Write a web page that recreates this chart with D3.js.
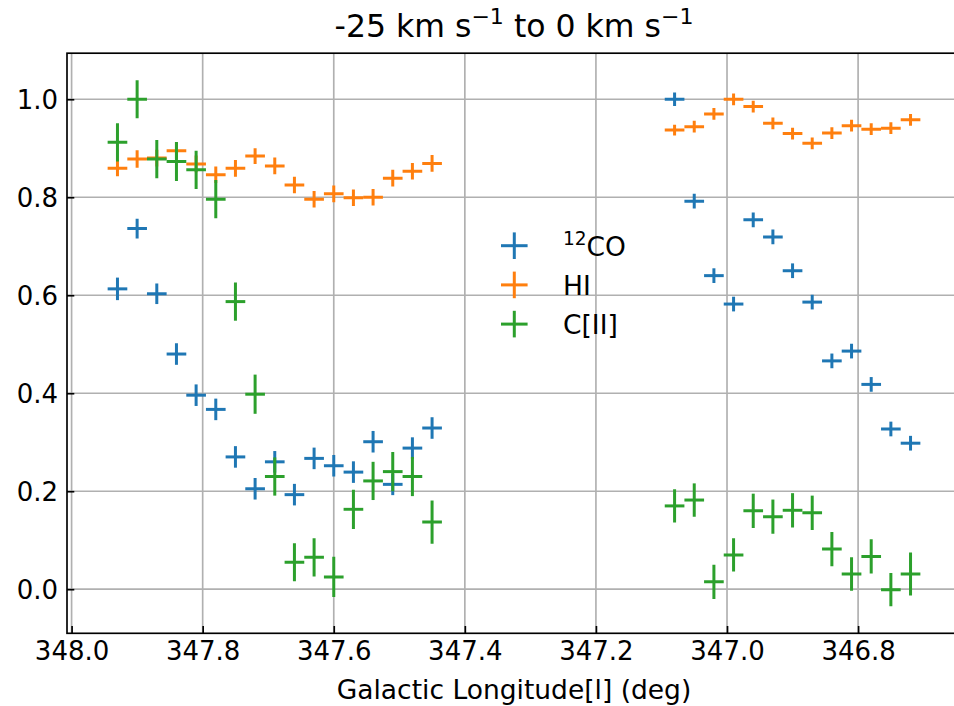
<!DOCTYPE html>
<html>
<head>
<meta charset="utf-8">
<script src="https://cdn.jsdelivr.net/npm/d3@7"></script>
<style>
  html, body { margin: 0; padding: 0; background: #fff; }
  svg { display: block; }
  text { font-family: "DejaVu Sans", sans-serif; fill: #000; }
</style>
</head>
<body>
<svg id="chart" width="954" height="706"></svg>
<script>
// ---------------- data ----------------
const longitude = [347.93, 347.90, 347.87, 347.84, 347.81, 347.78, 347.75, 347.72, 347.69,
  347.66, 347.63, 347.60, 347.57, 347.54, 347.51, 347.48, 347.45,
  347.08, 347.05, 347.02, 346.99, 346.96, 346.93, 346.90, 346.87, 346.84, 346.81, 346.78, 346.75, 346.72];
const lonErr = 0.015;

const co12 = [0.613, 0.736, 0.603, 0.480, 0.396, 0.367, 0.270, 0.205, 0.260,
  0.193, 0.267, 0.252, 0.239, 0.301, 0.214, 0.288, 0.329,
  1.000, 0.792, 0.640, 0.582, 0.754, 0.719, 0.650, 0.586, 0.466, 0.486, 0.418, 0.327, 0.298];
const co12Err = [0.023, 0.020, 0.021, 0.022, 0.022, 0.022, 0.022, 0.022, 0.022,
  0.022, 0.022, 0.022, 0.022, 0.022, 0.022, 0.022, 0.022,
  0.014, 0.015, 0.015, 0.015, 0.015, 0.015, 0.015, 0.015, 0.015, 0.015, 0.015, 0.015, 0.015];

const hi = [0.859, 0.878, 0.880, 0.895, 0.868, 0.846, 0.859, 0.884, 0.864,
  0.825, 0.796, 0.807, 0.799, 0.800, 0.839, 0.853, 0.869,
  0.937, 0.944, 0.970, 1.000, 0.985, 0.951, 0.930, 0.910, 0.931, 0.946, 0.939, 0.941, 0.958];
const hiErr = [0.016, 0.018, 0.017, 0.017, 0.017, 0.017, 0.017, 0.016, 0.017,
  0.017, 0.017, 0.017, 0.017, 0.017, 0.017, 0.017, 0.017,
  0.011, 0.012, 0.012, 0.012, 0.012, 0.012, 0.012, 0.012, 0.012, 0.012, 0.012, 0.012, 0.012];

const cii = [0.912, 1.000, 0.878, 0.873, 0.856, 0.796, 0.587, 0.398, 0.230,
  0.055, 0.065, 0.025, 0.163, 0.221, 0.240, 0.230, 0.137,
  0.170, 0.182, 0.015, 0.070, 0.160, 0.148, 0.161, 0.156, 0.082, 0.031, 0.067, -0.001, 0.031];
const ciiErr = [0.039, 0.039, 0.039, 0.040, 0.039, 0.039, 0.039, 0.040, 0.039,
  0.039, 0.039, 0.041, 0.040, 0.039, 0.040, 0.040, 0.044,
  0.034, 0.034, 0.035, 0.034, 0.035, 0.035, 0.035, 0.035, 0.035, 0.034, 0.035, 0.034, 0.044];

const xTicks = [348.0, 347.8, 347.6, 347.4, 347.2, 347.0, 346.8];
const yTicks = [0.0, 0.2, 0.4, 0.6, 0.8, 1.0];
const xDomain = [348.007, 346.643];
const yDomain = [-0.09, 1.094];

const seriesNames = ["12CO", "HI", "C[II]"];
const colors = ["#1f77b4", "#ff7f0e", "#2ca02c"];

// ---------------- layout ----------------
const W = 954, H = 706;
const mLeft = 67, mRight = 961, mTop = 53.2, mBottom = 633.3;
const tickFont = 26, labelFont = 26.5, legendFont = 26.5, titleFont = 31.5;

const svg = d3.select("#chart");
const x = d3.scaleLinear().domain(xDomain).range([mLeft, mRight]);
const y = d3.scaleLinear().domain(yDomain).range([mBottom, mTop]);

const clipId = "plotclip";
svg.append("defs").append("clipPath").attr("id", clipId)
  .append("rect").attr("x", mLeft).attr("y", mTop).attr("width", mRight - mLeft).attr("height", mBottom - mTop);

// grid
const grid = svg.append("g").attr("clip-path", `url(#${clipId})`);
grid.selectAll("line.gx").data(xTicks).join("line").attr("class", "gx")
  .attr("x1", d => x(d)).attr("x2", d => x(d)).attr("y1", mTop).attr("y2", mBottom)
  .attr("stroke", "#b0b0b0").attr("stroke-width", 1.67);
grid.selectAll("line.gy").data(yTicks).join("line").attr("class", "gy")
  .attr("x1", mLeft).attr("x2", mRight).attr("y1", d => y(d)).attr("y2", d => y(d))
  .attr("stroke", "#b0b0b0").attr("stroke-width", 1.67);

// data
const series = [
  { name: seriesNames[0], vals: co12, errs: co12Err, color: colors[0] },
  { name: seriesNames[1], vals: hi, errs: hiErr, color: colors[1] },
  { name: seriesNames[2], vals: cii, errs: ciiErr, color: colors[2] }
];
const plot = svg.append("g").attr("clip-path", `url(#${clipId})`);
series.forEach(s => {
  const pts = longitude.map((l, i) => ({ l, v: s.vals[i], e: s.errs[i] }));
  const g = plot.append("g");
  g.selectAll("line.h").data(pts).join("line").attr("class", "h")
    .attr("x1", d => x(d.l + lonErr)).attr("x2", d => x(d.l - lonErr))
    .attr("y1", d => y(d.v)).attr("y2", d => y(d.v))
    .attr("stroke", s.color).attr("stroke-width", 3);
  g.selectAll("line.v").data(pts).join("line").attr("class", "v")
    .attr("x1", d => x(d.l)).attr("x2", d => x(d.l))
    .attr("y1", d => y(d.v - d.e)).attr("y2", d => y(d.v + d.e))
    .attr("stroke", s.color).attr("stroke-width", 3);
});

// axes (inward ticks)
const xAxis = d3.axisBottom(x).tickValues(xTicks).tickFormat(d3.format(".1f"))
  .tickSizeInner(-7.3).tickSizeOuter(0).tickPadding(8);
const gx = svg.append("g").attr("transform", `translate(0,${mBottom})`).call(xAxis);
gx.select(".domain").remove();
gx.selectAll(".tick line").attr("stroke", "#000").attr("stroke-width", 1.67);
gx.selectAll(".tick text").attr("font-size", tickFont).attr("font-family", "DejaVu Sans").attr("fill", "#000").attr("dy", "0.72em");

const yAxis = d3.axisLeft(y).tickValues(yTicks).tickFormat(d3.format(".1f"))
  .tickSizeInner(-7.3).tickSizeOuter(0).tickPadding(9);
const gy = svg.append("g").attr("transform", `translate(${mLeft},0)`).call(yAxis);
gy.select(".domain").remove();
gy.selectAll(".tick line").attr("stroke", "#000").attr("stroke-width", 1.67);
gy.selectAll(".tick text").attr("font-size", tickFont).attr("font-family", "DejaVu Sans").attr("fill", "#000").attr("dy", "0.36em");

// spines
svg.append("rect").attr("x", mLeft).attr("y", mTop).attr("width", mRight - mLeft).attr("height", mBottom - mTop)
  .attr("fill", "none").attr("stroke", "#000").attr("stroke-width", 1.67);

// title
const supSize = titleFont * 0.7;
const title = svg.append("text").attr("x", (mLeft + mRight) / 2).attr("y", 37)
  .attr("text-anchor", "middle").attr("font-size", titleFont);
title.append("tspan").text("-25 km s");
title.append("tspan").attr("font-size", supSize).attr("dy", -13).text("\u22121");
title.append("tspan").attr("dy", 13).text(" to 0 km s");
title.append("tspan").attr("font-size", supSize).attr("dy", -13).text("\u22121");

// x label
svg.append("text").attr("x", (mLeft + mRight) / 2).attr("y", 699).attr("text-anchor", "middle")
  .attr("font-size", labelFont).text("Galactic Longitude[l] (deg)");

// legend
const legendX = 514.3, legendY0 = 245.7, legendDy = 39.2, hl = 13.3;
const lg = svg.append("g");
series.forEach((s, i) => {
  const cy = legendY0 + i * legendDy;
  lg.append("line").attr("x1", legendX - hl).attr("x2", legendX + hl).attr("y1", cy).attr("y2", cy)
    .attr("stroke", s.color).attr("stroke-width", 3);
  lg.append("line").attr("x1", legendX).attr("x2", legendX).attr("y1", cy - hl).attr("y2", cy + hl)
    .attr("stroke", s.color).attr("stroke-width", 3);
  const t = lg.append("text").attr("x", 563).attr("y", cy + 10).attr("font-size", legendFont);
  if (i === 0) {
    t.append("tspan").attr("font-size", legendFont * 0.7).attr("dy", -11).text("12");
    t.append("tspan").attr("dy", 11).text("CO");
  } else {
    t.text(s.name);
  }
});
</script>
</body>
</html>
